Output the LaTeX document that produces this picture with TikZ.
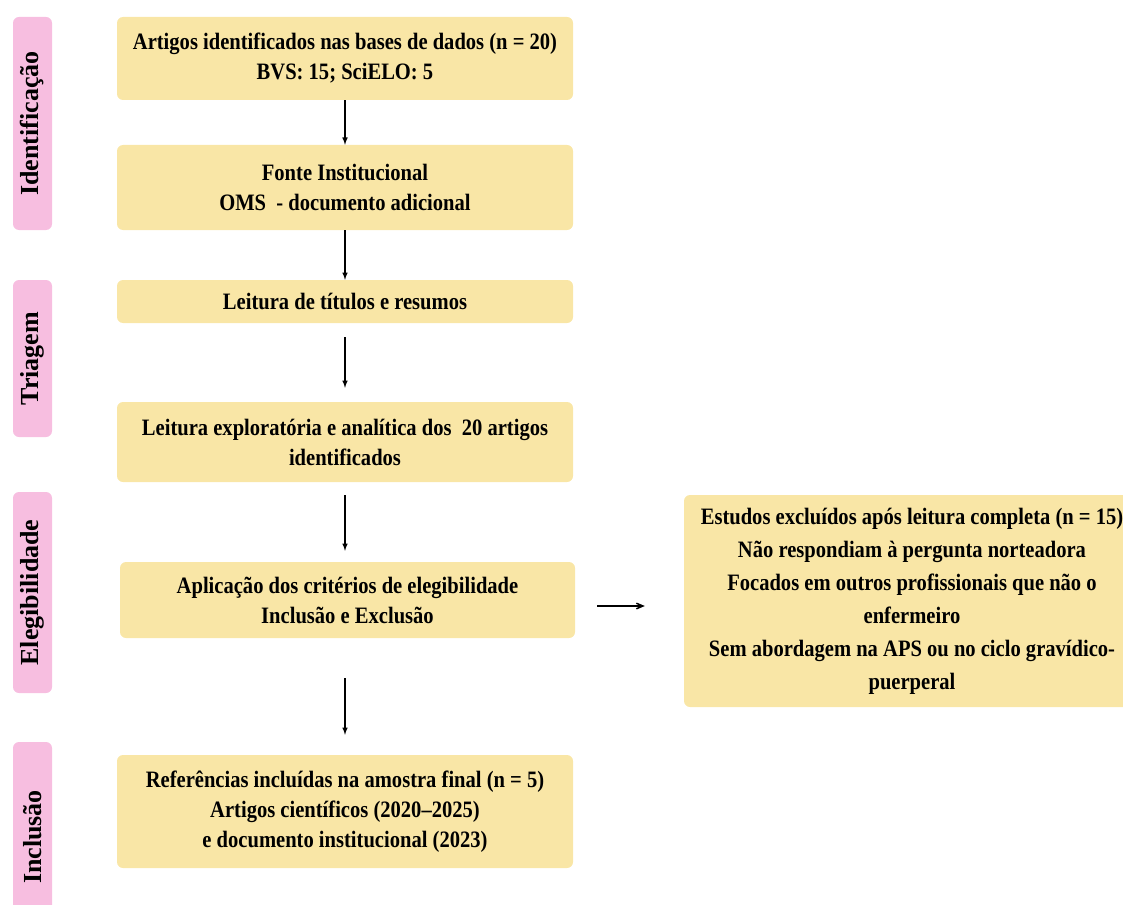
\documentclass[tikz,border=0pt]{standalone}
\usepackage{fontspec}
\setmainfont{Liberation Serif}[FakeStretch=0.875]
\newfontfamily\stagefont{Liberation Serif}
\usetikzlibrary{arrows}
\definecolor{boxyellow}{RGB}{249,230,166}
\definecolor{stagepink}{RGB}{247,190,224}
\tikzset{
  stepbox/.style={fill=boxyellow, rounded corners=6pt, minimum width=456pt, inner sep=0pt,
    align=center, font=\fontsize{23.5}{30}\selectfont\bfseries},
  stage/.style={fill=stagepink, rounded corners=6pt, rotate=90, minimum height=39pt, inner sep=0pt,
    font=\stagefont\fontsize{26}{30}\selectfont\bfseries},
  flow/.style={-latex, line width=1.5pt}
}
\begin{document}
\begin{tikzpicture}[x=1pt,y=-1pt]
      \useasboundingbox (0,0) rectangle (1123,904);
      \node[stage, minimum width=213pt] (ident) at (32.5,123.5) {Identificação};
      \node[stage, minimum width=157pt] (triag) at (32.5,358.5) {Triagem};
      \node[stage, minimum width=201pt] (elig) at (32.5,592.5) {Elegibilidade};
      \node[stage, minimum width=190pt] (incl) at (32.5,837) {Inclusão};
      \node[stepbox, minimum height=83pt] (bases) at (345,58.5) {Artigos identificados nas bases de dados (n = 20)\\BVS: 15; SciELO: 5};
      \node[stepbox, minimum height=85pt] (fonte) at (345,187.5) {Fonte Institucional\\OMS\ \ - documento adicional};
      \node[stepbox, minimum height=43pt] (titulos) at (345,301.5) {Leitura de títulos e resumos};
      \node[stepbox, minimum height=80pt] (leitura) at (345,442) {Leitura exploratória e analítica dos\ \ 20 artigos\\identificados};
      \node[stepbox, minimum height=76pt, minimum width=455pt] (criterios) at (347.5,600) {Aplicação dos critérios de elegibilidade\\Inclusão e Exclusão};
      \node[stepbox, minimum height=113pt] (amostra) at (345,811.5) {Referências incluídas na amostra final (n = 5)\\Artigos científicos (2020–2025)\\e documento institucional (2023)};
      \node[stepbox, minimum height=212pt, font=\fontsize{23.5}{33}\selectfont\bfseries] (excluidos) at (912,601) {Estudos excluídos após leitura completa (n = 15)\\Não respondiam à pergunta norteadora\\Focados em outros profissionais que não o\\enfermeiro\\Sem abordagem na APS ou no ciclo gravídico-\\puerperal};
      \draw[flow] (bases) -- (fonte);
      \draw[flow] (fonte) -- (titulos);
      \draw[flow, shorten <=14pt, shorten >=14pt] (titulos) -- (leitura);
      \draw[flow, shorten <=13pt, shorten >=11pt] (leitura.south) -- (leitura.south |- criterios.north);
      \draw[flow, shorten <=40pt, shorten >=20pt] (criterios.south -| amostra.north) -- (amostra.north);
      \draw[-angle 45, line width=1.5pt, shorten <=22pt, shorten >=39pt] ([yshift=-6pt]criterios.east) -- ([yshift=-6pt]criterios.east -| excluidos.west);
    \end{tikzpicture}
\end{document}
